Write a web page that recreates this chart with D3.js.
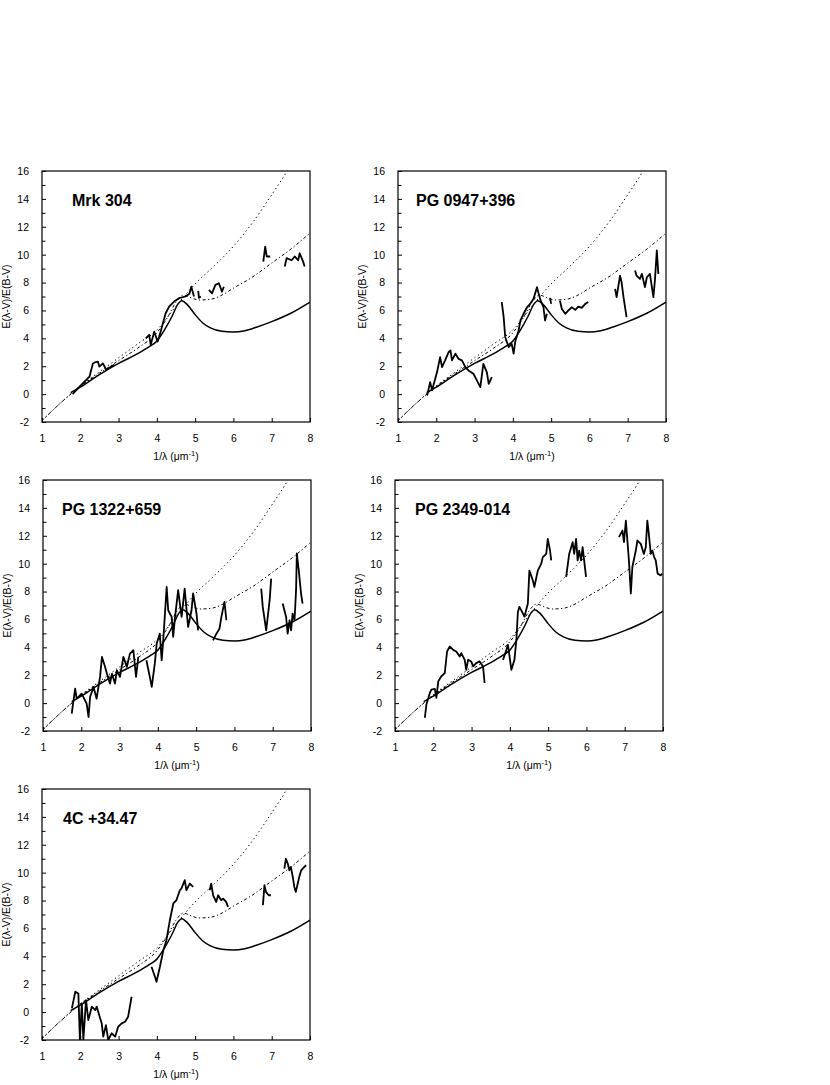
<!DOCTYPE html>
<html><head><meta charset="utf-8">
<script src="https://cdn.jsdelivr.net/npm/d3@7"></script>
<style>body{margin:0;background:#fff;} svg{display:block;}</style>
</head><body>
<svg id="chart" width="830" height="1085"></svg>
<script>
// ---- data ----
const panelNames = ["Mrk 304", "PG 0947+396", "PG 1322+659", "PG 2349-014", "4C +34.47"];
const xTicks = [1, 2, 3, 4, 5, 6, 7, 8];
const yTicks = [-2, 0, 2, 4, 6, 8, 10, 12, 14, 16];
const yMinorTicks = [-1, 1, 3, 5, 7, 9, 11, 13, 15];

// model curves
const galacticCurve = [[1.75,0.1],[2,0.5],[2.5,1.4],[3,2.2],[3.5,2.9],[3.8,3.4],[4.0,3.8],[4.2,4.6],[4.4,5.6],[4.55,6.45],[4.65,6.7],[4.8,6.4],[5.0,5.7],[5.2,5.1],[5.4,4.75],[5.7,4.5],[6.0,4.45],[6.3,4.55],[6.6,4.8],[7.0,5.2],[7.5,5.8],[8.0,6.6]];
const weakBumpCurve = [[1,-1.9],[1.5,-0.6],[2,0.55],[2.5,1.5],[3,2.4],[3.5,3.3],[4,4.4],[4.3,5.6],[4.5,6.6],[4.7,7.1],[4.9,6.9],[5.1,6.75],[5.4,6.8],[5.7,7.1],[6,7.6],[6.5,8.4],[7,9.4],[7.5,10.4],[8,11.55]];
const noBumpCurve = [[1,-1.9],[1.5,-0.6],[2,0.6],[2.5,1.6],[3,2.6],[3.5,3.6],[4,4.6],[4.5,6.3],[4.8,7.3],[5,7.9],[5.5,9.2],[6,10.6],[6.5,12.3],[7,14.3],[7.4,16],[7.6,17]];

// observed extinction curves, one list of segments per object
const mrk304 = [
 [[1.8,0.0],[1.9,0.3],[2.07,0.78],[2.24,1.25],[2.33,2.2],[2.4,2.3],[2.46,2.33],[2.5,1.97],[2.59,2.2],[2.68,1.73],[2.8,1.97],[2.89,2.1]],
 [[3.71,4.0],[3.8,4.24],[3.84,3.53],[3.93,4.48],[4.02,3.77],[4.1,4.48],[4.15,5.0],[4.23,5.8],[4.32,6.28],[4.45,6.64],[4.58,6.88],[4.75,7.0],[4.85,7.2],[4.9,7.7],[4.97,7.0]],
 [[5.08,7.4],[5.1,6.9],[5.15,7.0]],
 [[5.36,7.47],[5.44,7.23],[5.53,7.83],[5.62,7.95],[5.7,7.35],[5.75,7.7]],
 [[6.78,9.5],[6.83,10.58],[6.87,9.87],[6.96,9.87]],
 [[7.34,9.15],[7.39,9.75],[7.52,9.6],[7.6,9.87],[7.69,9.6],[7.73,10.1],[7.82,9.5],[7.86,9.15]]
];
const pg0947 = [
 [[1.76,-0.1],[1.84,0.86],[1.89,0.27],[2.02,1.58],[2.1,2.65],[2.15,1.94],[2.23,2.42],[2.32,3.0],[2.37,3.13],[2.41,2.42],[2.5,2.9],[2.58,2.53],[2.67,2.42],[2.76,1.94],[2.84,1.7],[2.97,1.46],[3.06,0.98],[3.15,0.5],[3.23,2.17],[3.32,1.58],[3.37,0.74],[3.45,1.22]],
 [[3.71,6.6],[3.76,5.52],[3.8,4.1],[3.89,3.37],[3.97,3.6],[4.02,2.9],[4.06,3.73],[4.15,4.56],[4.2,5.3],[4.28,5.76],[4.37,6.23],[4.45,6.47],[4.54,6.83],[4.63,7.67],[4.71,6.83],[4.8,6.23],[4.84,5.28],[4.89,5.76]],
 [[4.97,6.9],[5.0,6.47]],
 [[5.23,6.7],[5.28,6.1],[5.37,5.76],[5.45,6.0],[5.54,6.23],[5.63,6.04],[5.71,6.28],[5.8,6.18],[5.89,6.47],[5.97,6.6]],
 [[6.67,7.55],[6.71,6.95],[6.8,8.5],[6.84,8.02],[6.89,6.95],[6.97,5.52]],
 [[7.19,8.86],[7.23,8.5],[7.32,8.26],[7.37,8.62],[7.45,7.67],[7.5,8.38],[7.58,8.62],[7.67,6.95],[7.71,8.14],[7.76,10.3],[7.8,8.62]]
];
const pg1322 = [
 [[1.75,-0.76],[1.84,1.04],[1.88,0.32],[2.01,0.68],[2.14,-0.04],[2.19,-1.0],[2.23,0.44],[2.32,1.16],[2.4,0.32],[2.49,1.88],[2.54,3.31],[2.62,2.6],[2.67,2.1],[2.75,1.4],[2.8,2.1],[2.88,1.4],[2.93,2.35],[3.01,1.88],[3.1,3.31],[3.19,2.6],[3.27,3.55],[3.36,3.79],[3.43,1.88],[3.49,3.31]],
 [[3.7,3.07],[3.79,1.88],[3.84,1.16],[3.92,2.83],[3.97,4.27],[4.05,4.98],[4.1,3.07],[4.14,4.5],[4.18,6.18],[4.23,8.33],[4.27,6.66],[4.36,6.18],[4.4,4.75],[4.44,5.94],[4.53,8.1],[4.62,6.18],[4.7,8.21],[4.79,5.46],[4.88,6.66],[4.92,7.86],[5.01,6.42],[5.05,5.22]],
 [[5.44,4.5],[5.53,4.98],[5.61,5.34],[5.66,6.18],[5.74,7.26],[5.79,5.94]],
 [[6.7,8.21],[6.74,6.9],[6.83,5.22],[6.92,7.38],[6.96,8.93]],
 [[7.26,7.14],[7.35,6.18],[7.39,4.98],[7.44,5.94],[7.48,5.22],[7.52,6.42],[7.57,5.94],[7.61,8.1],[7.63,10.73],[7.68,9.53],[7.74,7.86],[7.78,7.14]]
];
const pg2349 = [
 [[1.78,-1.05],[1.82,-0.1],[1.91,0.73],[1.95,0.97],[2.04,1.02],[2.08,0.38],[2.13,1.56],[2.21,1.92],[2.3,2.16],[2.36,3.7],[2.43,4.06],[2.52,3.82],[2.6,3.7],[2.69,3.34],[2.73,3.58],[2.82,3.11],[2.86,2.39],[2.91,3.11],[2.99,2.99],[3.04,2.63],[3.12,2.87],[3.21,2.99],[3.3,2.63],[3.34,1.44]],
 [[3.82,3.1],[3.91,3.82],[3.95,4.18],[4.04,2.39],[4.12,3.11],[4.17,4.53],[4.21,6.55],[4.25,6.9],[4.34,6.43],[4.38,6.2],[4.47,7.14],[4.51,9.5],[4.6,8.8],[4.64,8.33],[4.73,9.5],[4.82,10.0],[4.86,10.47],[4.95,10.7],[4.99,11.78],[5.05,10.94],[5.08,10.23]],
 [[5.47,9.05],[5.55,10.7],[5.64,11.54],[5.68,10.7],[5.73,11.78],[5.77,10.23],[5.81,10.94],[5.86,10.23],[5.9,11.18],[5.99,9.05]],
 [[6.85,11.9],[6.94,12.37],[6.98,11.54],[7.03,13.08],[7.11,10.23],[7.16,7.86],[7.2,9.76],[7.29,10.94],[7.33,11.66],[7.42,11.42],[7.5,10.7],[7.55,11.18],[7.59,13.08],[7.63,12.13],[7.68,10.7],[7.72,10.94],[7.77,10.47],[7.81,10.23],[7.86,9.28],[7.94,9.16],[7.98,9.28]]
];
const c4_3447 = [
 [[1.78,0.27],[1.87,1.46],[1.95,1.34],[1.99,-2],[2.04,0.63],[2.08,-2],[2.15,0.86],[2.21,-0.57],[2.3,0.39],[2.39,0.15],[2.43,0.39],[2.52,-0.45],[2.56,-0.81],[2.6,-1.76],[2.67,-0.93],[2.73,-2],[2.82,-1.52],[2.91,-1.76],[2.99,-1.05],[3.08,-0.81],[3.17,-0.69],[3.25,-0.33],[3.34,1.1]],
 [[3.86,3.25],[3.95,2.53],[3.99,2.18],[4.08,3.25],[4.17,4.44],[4.25,5.16],[4.34,6.59],[4.43,7.79],[4.51,8.02],[4.6,8.74],[4.64,8.86],[4.73,9.46],[4.77,8.74],[4.86,9.22],[4.95,8.98]],
 [[5.38,8.74],[5.42,9.22],[5.47,8.38],[5.55,7.9],[5.6,8.38],[5.68,8.02],[5.73,8.14],[5.81,7.9],[5.86,7.55]],
 [[6.77,7.67],[6.81,9.1],[6.85,8.62],[6.92,8.38],[6.98,8.38]],
 [[7.33,10.29],[7.37,11.0],[7.42,10.65],[7.46,10.17],[7.5,10.41],[7.55,9.7],[7.59,8.98],[7.63,8.62],[7.68,9.22],[7.72,9.7],[7.77,10.17],[7.85,10.41],[7.9,10.53]]
];
const observed = [mrk304, pg0947, pg1322, pg2349, c4_3447];

// ---- layout ----
const panelPos = [
  {x: 42, y: 171, tx: 30},
  {x: 398, y: 171, tx: 18},
  {x: 43, y: 480, tx: 19},
  {x: 395, y: 480, tx: 20},
  {x: 42, y: 789, tx: 21}
];
const W = 268, H = 251;
const font = "'Liberation Sans', Arial, Helvetica, sans-serif";

const svg = d3.select("#chart");
const x = d3.scaleLinear().domain([1, 8]).range([0, W]);
const y = d3.scaleLinear().domain([-2, 16]).range([H, 0]);

const smooth = d3.line().x(d => x(d[0])).y(d => y(d[1])).curve(d3.curveMonotoneX);
const raw = d3.line().x(d => x(d[0])).y(d => y(d[1]));
const fmt = d => String(d);

panelNames.forEach((name, i) => {
  const p = panelPos[i];
  const g = svg.append("g").attr("transform", `translate(${p.x},${p.y})`);

  g.append("clipPath").attr("id", "clip" + i)
    .append("rect").attr("x", 0).attr("y", 0).attr("width", W).attr("height", H);
  const plot = g.append("g").attr("clip-path", `url(#clip${i})`);

  plot.append("path").datum(noBumpCurve).attr("d", smooth)
    .attr("fill", "none").attr("stroke", "#000").attr("stroke-width", 1)
    .attr("stroke-dasharray", "1.3,3");
  plot.append("path").datum(weakBumpCurve).attr("d", smooth)
    .attr("fill", "none").attr("stroke", "#000").attr("stroke-width", 1)
    .attr("stroke-dasharray", "3,2.5,1.2,2.5");
  plot.append("path").datum(galacticCurve).attr("d", smooth)
    .attr("fill", "none").attr("stroke", "#000").attr("stroke-width", 1.5);

  observed[i].forEach(seg => {
    plot.append("path").datum(seg).attr("d", raw)
      .attr("fill", "none").attr("stroke", "#000").attr("stroke-width", 1.8)
      .attr("stroke-linejoin", "round");
  });

  // frame
  g.append("rect").attr("x", 0).attr("y", 0).attr("width", W).attr("height", H)
    .attr("fill", "none").attr("stroke", "#000").attr("stroke-width", 1.2);

  // x axis
  const xa = g.append("g").attr("transform", `translate(0,${H})`)
    .call(d3.axisBottom(x).tickValues(xTicks).tickFormat(fmt).tickSizeInner(-4).tickSizeOuter(0).tickPadding(13));
  xa.select(".domain").remove();
  xa.selectAll("text").attr("font-family", font).attr("font-size", 10.5).attr("fill", "#000");

  // y axis
  const ya = g.append("g")
    .call(d3.axisLeft(y).tickValues(yTicks).tickFormat(fmt).tickSizeInner(-4).tickSizeOuter(0).tickPadding(13));
  ya.select(".domain").remove();
  ya.selectAll("text").attr("font-family", font).attr("font-size", 10.5).attr("fill", "#000");
  const ym = g.append("g")
    .call(d3.axisLeft(y).tickValues(yMinorTicks).tickFormat("").tickSizeInner(-3.5).tickSizeOuter(0));
  ym.select(".domain").remove();

  // axis titles
  const xt = g.append("text").attr("x", W / 2).attr("y", H + 38)
    .attr("text-anchor", "middle").attr("font-family", font).attr("font-size", 10.5);
  xt.append("tspan").text("1/λ (μm");
  xt.append("tspan").attr("dy", -4).attr("font-size", 7.5).text("-1");
  xt.append("tspan").attr("dy", 4).text(")");

  g.append("text")
    .attr("transform", `translate(-32,${H / 2}) rotate(-90)`)
    .attr("text-anchor", "middle").attr("font-family", font).attr("font-size", 10.5)
    .text("E(λ-V)/E(B-V)");

  // panel label
  g.append("text").attr("x", p.tx).attr("y", 35)
    .attr("font-family", font).attr("font-weight", "bold").attr("font-size", 16)
    .text(name);
});
</script>
</body></html>
